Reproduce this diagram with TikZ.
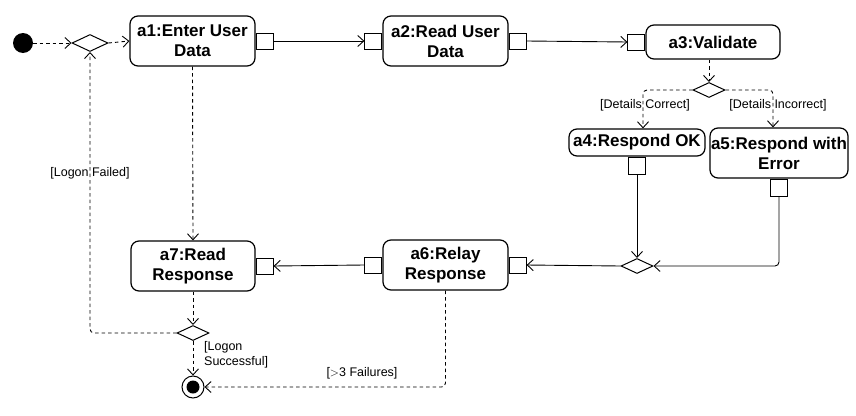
\documentclass[tikz,border=0pt]{standalone}
\usepackage{fontspec}
\setmainfont{Liberation Sans}
\usetikzlibrary{arrows.meta,shapes.geometric}
\begin{document}
\begin{tikzpicture}[x=1pt,y=-1pt,
  act/.style={draw, rounded corners=8pt, font=\bfseries\fontsize{17}{20}\selectfont, align=center, inner sep=0pt, line width=1.2pt},
  pinbox/.style={draw, fill=white, minimum width=17pt, minimum height=16pt, inner sep=0pt, line width=1pt},
  dec/.style={draw, diamond, minimum width=32pt, minimum height=15pt, inner sep=0pt, line width=1pt},
  lbl/.style={font=\fontsize{12.5}{15}\selectfont, inner sep=0pt},
  flow/.style={-{Straight Barb[length=6pt,width=11pt]}, line width=0.9pt},
  ctrl/.style={flow, dash pattern=on 3.5pt off 3pt}
]
\useasboundingbox (0,0) rectangle (856,415);

% initial and final
\node[circle, fill=black, minimum size=20pt, inner sep=0pt] (init) at (23,43) {};
\node[circle, draw, line width=1pt, minimum size=22pt, inner sep=0pt] (fin) at (193,387) {};
\fill (fin.center) circle (6.5pt);

% decisions
\node[dec, minimum width=36pt, minimum height=17pt] (d0) at (90,43) {};
\node[dec] (d1) at (709,90) {};
\node[dec] (d2) at (637,266) {};
\node[dec] (d3) at (193,333) {};

% actions
\node[act, minimum width=125pt, minimum height=50pt] (a1) at (192.5,41) {a1:Enter User\\Data};
\node[act, minimum width=125pt, minimum height=50pt] (a2) at (445.5,41) {a2:Read User\\Data};
\node[act, minimum width=134pt, minimum height=34pt] (a3) at (713,42) {a3:Validate};
\node[act, minimum width=136pt, minimum height=27pt] (a4) at (637,142.5) {a4:Respond OK};
\node[act, minimum width=138pt, minimum height=50pt] (a5) at (779,153) {a5:Respond with\\Error};
\node[act, minimum width=125pt, minimum height=50pt] (a6) at (445.5,265) {a6:Relay\\Response};
\node[act, minimum width=124pt, minimum height=50pt] (a7) at (193,266) {a7:Read\\Response};

% pins
\node[pinbox, anchor=west] (a1R) at (a1.east) {};
\node[pinbox, anchor=east] (a2L) at (a2.west) {};
\node[pinbox, anchor=west] (a2R) at (a2.east) {};
\node[pinbox, anchor=east] (a3L) at (a3.west) {};
\node[pinbox, anchor=north, minimum height=17pt] (a4B) at (a4.south) {};
\node[pinbox, anchor=north, minimum height=17pt] (a5B) at (a5.south) {};
\node[pinbox, anchor=east] (a6L) at (a6.west) {};
\node[pinbox, anchor=west] (a6R) at (a6.east) {};
\node[pinbox, anchor=west] (a7R) at (a7.east) {};

% object flows
\draw[flow] (a1R.east) -- (a2L.west);
\draw[flow] (a2R.east) -- (a3L.west);
\draw[flow] (a4B.south) -- (d2.north);
\draw[flow, rounded corners=4pt] (a5B.south) |- (d2.east);
\draw[flow] (d2.west) -- (a6R.east);
\draw[flow] (a6L.west) -- (a7R.east);

% control flows
\draw[ctrl] (init) -- (d0.west);
\draw[ctrl] (d0.east) -- (a1.west);
\draw[ctrl] (d1.north |- a3.south) -- (d1.north);
\draw[ctrl, rounded corners=4pt] (d1.west) -| ([xshift=6pt]a4.north);
\draw[ctrl, rounded corners=4pt] (d1.east) -| ([xshift=-6pt]a5.north);
\draw[ctrl] (a1.south) -- (a7.north);
\draw[ctrl] (a7.south) -- (d3.north);
\draw[ctrl, rounded corners=4pt] (d3.west) -| (d0.south);
\draw[ctrl] (d3.south) -- (fin.north);
\draw[ctrl, rounded corners=4pt] (a6.south) |- (fin.east);

% guards
\node[lbl] (g1) at (645,105) {[Details Correct]};
\node[lbl] (g2) at (778,105) {[Details Incorrect]};
\node[lbl] (g3) at (90,173) {[Logon Failed]};
\node[lbl, anchor=west, align=left] (g4) at (204,355) {[Logon\\Successful]};
\node[lbl] (g5) at (362,373) {[$>$3 Failures]};
\end{tikzpicture}
\end{document}
